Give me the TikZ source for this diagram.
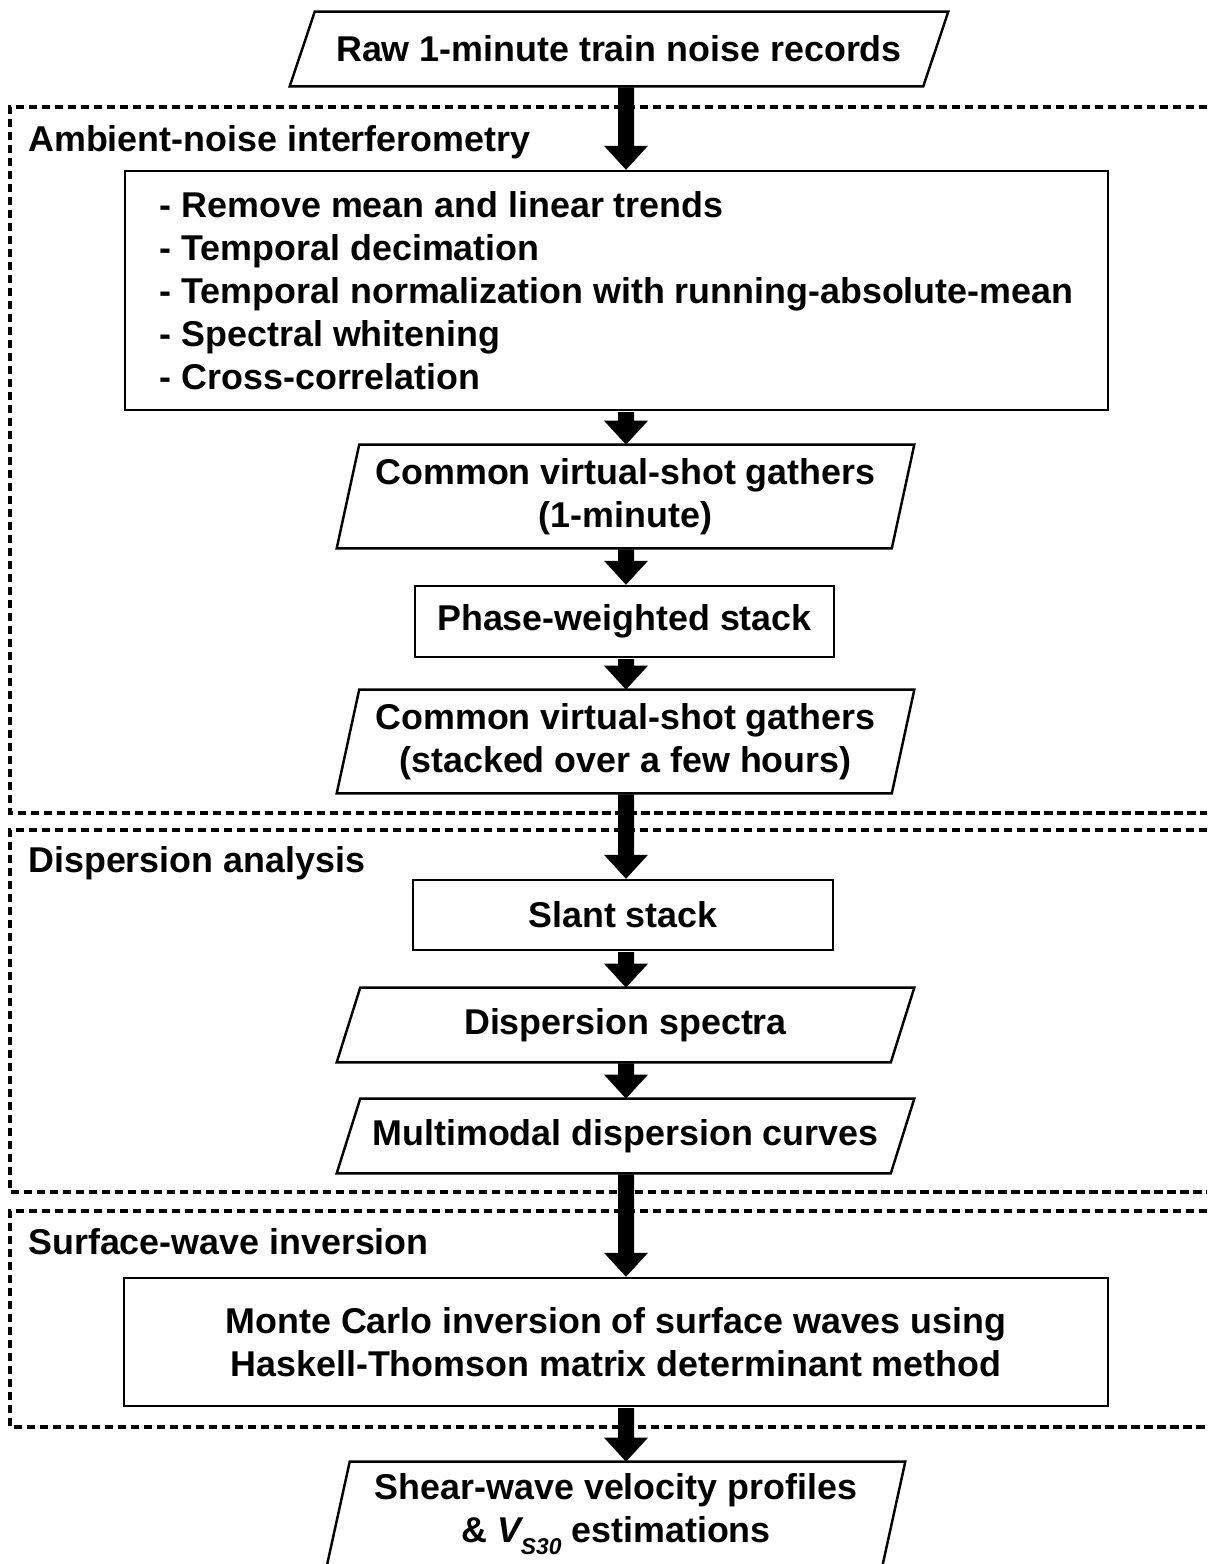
\documentclass[tikz,border=0pt]{standalone}
\usepackage{fontspec}
\setmainfont{Liberation Sans}
\usetikzlibrary{calc}
\newcommand\fatarrow[2]{%
  \fill let \p1=(#1.south), \p2=(#2.north), \p3=(ax) in
  (\x3-0.16cm,\y1-0.02cm) -- (\x3-0.16cm,\y2+0.48cm) -- (\x3-0.44cm,\y2+0.48cm) -- (\x3,\y2)
  -- (\x3+0.44cm,\y2+0.48cm) -- (\x3+0.16cm,\y2+0.48cm) -- (\x3+0.16cm,\y1-0.02cm) -- cycle;}
\newcommand\drawpara[2]{%
  \draw[outline] ([xshift=#2]#1.north west) -- (#1.north east)
  -- ([xshift=-#2]#1.south east) -- (#1.south west) -- cycle;}
\begin{document}
\begin{tikzpicture}[x=0.02cm,y=-0.02cm,
  every node/.style={font=\fontsize{20.4}{24.4}\selectfont\bfseries, inner sep=0pt},
  outline/.style={line width=1.4pt, line join=miter},
  box/.style={draw, outline, rectangle},
  para/.style={rectangle, align=center},
  group/.style={line width=2.2pt, dash pattern=on 0.17cm off 0.09cm},
  lbl/.style={anchor=base west}]
\useasboundingbox (0,0) rectangle (1207,1564);
\coordinate (ax) at (626,0);

% group frames
\draw[group] (1207,107) -- (10,107) -- (10,813) -- (1207,813);
\draw[group] (1207,830) -- (10,830) -- (10,1192) -- (1207,1192);
\draw[group] (1207,1211) -- (10,1211) -- (10,1427) -- (1207,1427);
\node[lbl] (g1) at (28,152) {Ambient-noise interferometry};
\node[lbl] (g2) at (28,872) {Dispersion analysis};
\node[lbl] (g3) at (28,1254) {Surface-wave inversion};

% nodes
\node[para, minimum width=13.16cm, minimum height=1.48cm] (raw) at (619,49) {Raw 1-minute train noise records};
\drawpara{raw}{0.5cm}
\node[box, minimum width=19.66cm, minimum height=4.78cm, align=left] (prep) at (616.5,290.5)
  {- Remove mean and linear trends\\- Temporal decimation\\- Temporal normalization with running-absolute-mean\\- Spectral whitening\\- Cross-correlation};
\node[para, minimum width=11.54cm, minimum height=2.06cm] (cvs1) at (625.5,496.5) {Common virtual-shot gathers\\(1-minute)};
\drawpara{cvs1}{0.45cm}
\node[box, minimum width=8.38cm, minimum height=1.42cm] (pws) at (624.5,621.5) {Phase-weighted stack};
\node[para, minimum width=11.54cm, minimum height=2.06cm] (cvs2) at (625.5,741.5) {Common virtual-shot gathers\\(stacked over a few hours)};
\drawpara{cvs2}{0.45cm}
\node[box, minimum width=8.4cm, minimum height=1.4cm] (slant) at (623,915) {Slant stack};
\node[para, minimum width=11.54cm, minimum height=1.48cm] (dspec) at (625.5,1025) {Dispersion spectra};
\drawpara{dspec}{0.47cm}
\node[para, minimum width=11.54cm, minimum height=1.48cm] (dcurv) at (625.5,1136) {Multimodal dispersion curves};
\drawpara{dcurv}{0.47cm}
\node[box, minimum width=19.68cm, minimum height=2.56cm, align=center] (mc) at (616,1342)
  {Monte Carlo inversion of surface waves using\\Haskell-Thomson matrix determinant method};
\node[para, minimum width=11.56cm, minimum height=2.08cm] (vs) at (616,1514)
  {Shear-wave velocity profiles\\\& {\itshape V\raisebox{-0.32em}{\fontsize{13}{13}\selectfont S30}} estimations};
\drawpara{vs}{0.46cm}

% arrows
\fatarrow{raw}{prep}
\fatarrow{prep}{cvs1}
\fatarrow{cvs1}{pws}
\fatarrow{pws}{cvs2}
\fatarrow{cvs2}{slant}
\fatarrow{slant}{dspec}
\fatarrow{dspec}{dcurv}
\fatarrow{dcurv}{mc}
\fatarrow{mc}{vs}
\end{tikzpicture}
\end{document}
